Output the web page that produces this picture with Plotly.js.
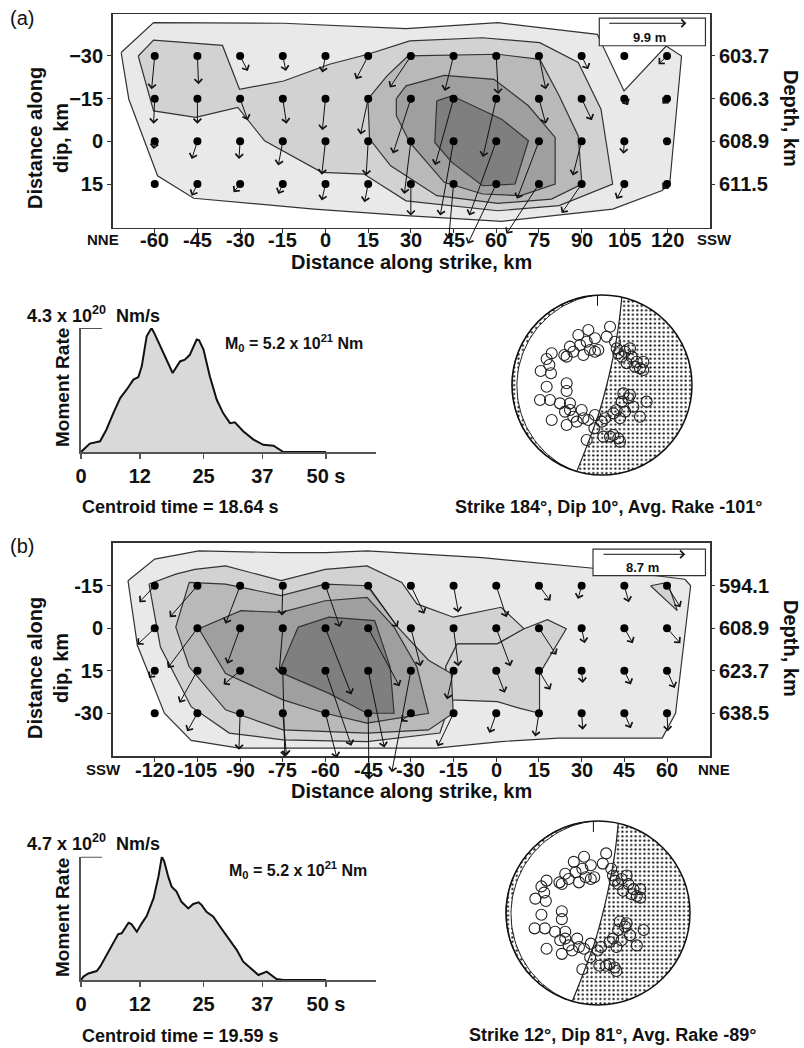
<!DOCTYPE html>
<html><head><meta charset="utf-8">
<script src="https://cdn.plot.ly/plotly-3.0.1.min.js"></script>
<style>html,body{margin:0;padding:0;background:#fff}#chart{width:804px;height:1048px}</style>
</head><body><div id="chart"></div>
<script>
// ---------- Event (a): slip grid ----------
const strikeA = [-60,-45,-30,-15,0,15,30,45,60,75,90,105,120];
const dipA = [-30,-15,0,15];
const depthLabelsA = ['603.7','606.3','608.9','611.5'];
// slip vector components (km on the map scale), one row per dip level
const slipDxA = [
  [-1.1, 0.4, 2.7, 1.1,-1.1,-4.3,-7.4,-3.1, 0.7, 2.4, 2.3, null,-3.0],
  [-0.4, 0.0, 2.7, 1.3,-1.1,-2.7,-6.3,-6.5,-4.7, 2.4, 3.6, 1.3,-1.6],
  [-0.4,-2.0,-0.4,-1.6,-1.3,-0.7,-2.3,-4.7,-9.5,-7.7,-3.1,-0.3,-0.5],
  [null,-2.0,-2.3,-1.6,-1.3,-1.3, 0.0,-1.7,-10.0,-11.4,-7.0,-2.7,-1.6]
];
const slipDyA = [
  [11.7, 9.9, 5.3, 5.3, 5.8, 8.2,11.1,12.3,13.4,11.7, 4.7, null, 2.9],
  [ 8.8, 8.8, 7.6, 8.8,11.1,12.6,19.3,23.4,20.5, 8.8, 7.6, 2.3, 1.8],
  [ 2.7, 6.2, 6.2, 8.5,11.7,12.0,18.5,26.1,26.1,20.2,12.0, 4.4, 1.5],
  [null, 4.1, 2.9, 3.5, 5.8, 6.4,11.1,19.3,21.0,17.5,10.2, 5.3, 1.8]
];
// slip contour outlines, outermost (lowest) level first
const contourXA = [
  [-71.8,-60.4,-14.7,28.3,60.6,95.5,104.9,119.7,125.1,121.0,118.3,100.9,61.9,28.3,-4,-46.3,-59,-69.1],
  [-65.8,-60.4,-36.2,-30.2,-14.7,1.4,14.9,29.6,55.2,75.3,88.8,96.8,100.9,82.1,60.6,28.3,13.5,-1.3,-21.4,-30.8,-45.6,-60.4],
  [14.9,21.6,29,60.6,75.3,82.1,88.8,90.1,79.4,60.6,39.1,22.9,15.5],
  [24.9,28.3,41.7,59.2,71.3,80.7,80.7,68.6,55.2,41.7,29.6,24.9],
  [39.1,44.4,61.9,71.3,66.6,55.2,44.4,38.4]
];
const contourYA = [
  [-31.2,-41.7,-41.5,-39.6,-41.7,-37.6,-17.7,-33.5,-30,14.4,17.3,23.8,28.1,26.1,23.8,20.0,12.1,-14.8],
  [-30,-35.6,-33.7,-18.3,-21.2,-27.1,-30.6,-35.3,-36.4,-34.7,-27.7,-11.3,15,22.6,24.4,20.9,11.5,10.9,-0.2,-11.9,-8.4,-10.7],
  [-14.8,-23,-30,-30.6,-28.8,-16,-1.9,15,20.3,21.8,19.1,8.6,-0.8],
  [-15,-19.5,-23.2,-21.8,-12.5,-1.4,15,19.1,18.5,14.4,0.4,-9],
  [-14.2,-16,-7.8,-0.2,15,15.6,7.4,0.4]
];
const scaleSlipA = '9.9 m';

// ---------- Event (b): slip grid ----------
const strikeB = [-120,-105,-90,-75,-60,-45,-30,-15,0,15,30,45,60];
const dipB = [-15,0,15,30];
const dipLabelsB = ['-15','0','15','-30'];
const depthLabelsB = ['594.1','608.9','623.7','638.5'];
const slipDxB = [
  [-5.4,-9.7,-5.1,-0.3, 5.1,10.4, 4.7, 1.7, 3.6, 4.0,-1.3, 1.6, 4.7],
  [-6.1,-10.4,-4.5,-1.3, 9.1,11.0, 3.4, 1.7, 5.0, 6.1, 1.1, 3.0, 4.7],
  [-2.0,-6.3,-5.8, 0.7, 9.1, 5.7,-6.7,-2.3, 3.0, 4.0, 0.4, 2.3, 2.7],
  [null,-3.6,-0.4, 1.3, 4.0, 0.3,-3.4,-5.6,-2.4,-1.3, 0.4, 2.3, 0.3]
];
const slipDyB = [
  [ 5.8,11.1,13.4,10.5,14.6,14.6, 9.9, 9.4,11.1, 5.3, 4.7, 5.8, 7.6],
  [ 5.8,14.0,12.5,15.8,23.4,20.5,13.4,13.4,13.4, 9.4, 5.3, 5.3, 5.3],
  [ 2.6,11.3, 4.9,30.4,26.5,27.1,35.8,10.1, 7.8, 6.7, 4.3, 4.9, 6.1],
  [null, 6.4,12.9,15.0,15.7,23.4, 2.9,11.7, 7.0, 8.2, 5.8, 5.3, 6.4]
];
const contourXB = [
  [-129.4,-120,-104.5,-74.9,-60,-45.3,-5,30,36,66.3,68.3,63,58.3,21.9,1.7,-21.1,-58.8,-90.4,-107.2,-116.6,-126.1],
  [-122,-112.6,-105.9,-95.1,-75.6,-60.1,-45.4,-33.2,-27.9,-15.1,1.7,9.8,0.4,-13.7,-17.8,-15.8,-19.8,-45.4,-74.9,-93.8,-107.2,-118],
  [-107.9,-95.1,-75.6,-60.1,-45.4,-34.6,-23.8,-15.8,-15.1,-23.8,-45.4,-74.9,-95.1,-107.9,-112.6],
  [-104.5,-89.7,-75.6,-60.1,-45.4,-35.9,-27.9,-23.8,-45.4,-60.1,-74.9,-95.1],
  [-69.6,-58.8,-42.7,-37.3,-35.9,-45.4,-58.8,-76.3]
];
const contourYB = [
  [-16.8,-24.4,-27.3,-26.7,-26.7,-27.3,-24.9,-21.4,-21,-17.3,-15,30,38.8,38.8,40,42.3,42.3,42.3,39.6,30,6],
  [-15.6,-19.1,-20.8,-22,-16.8,-20.8,-22,-16.2,-8.6,-3.9,-7.4,0.2,5.5,5.5,13.6,25.3,37,40,39.4,37,27.7,6.6],
  [-16.2,-15.6,-11.5,-15.6,-15,-0.4,11.3,16,30,35.9,37,35.9,28.8,13.6,-0.4],
  [0.2,-6.2,-5.6,-9.7,-10.9,-0.4,13.6,30,33.5,30,25.3,16],
  [-0.4,-3.9,-2.7,13.6,30,30,23,15.4]
];
// second-level patch east of the main asperity, and the small patch at the NNE end
const eastPatchXB = [-13.7,0.4,9.8,18.0,24.6,19.2,15.2,15.2,8.4,0.4,-15.8,-17.8];
const eastPatchYB = [5.5,5.5,0.2,-3.0,0.2,9.0,16,30,28.3,25.9,25.3,13.6];
const islandXB = [54.2,60.2,63.6];
const islandYB = [-15,-16.2,-6.2];
const scaleSlipB = '8.7 m';

// ---------- Moment-rate functions (10^20 Nm/s) ----------
const momTimeA = [0,0.8,1.8,3.9,5.2,6.6,8.0,9.3,10.7,11.7,12.4,13.4,14.4,15.1,16.8,18.7,20.2,21.2,22.2,23.6,24.1,25,26.3,27.7,29,30.4,31.4,33.1,35.2,37.2,39.3,41.3,50];
const momRateA = [0,0.14,0.29,0.37,0.78,1.35,1.87,2.16,2.51,2.6,2.97,4.01,4.3,4.07,3.43,2.74,3.14,3.2,3.37,3.9,3.87,3.55,2.62,1.81,1.35,1.0,1.03,0.72,0.43,0.25,0.22,0,0];
const momTimeB = [0,0.5,1.5,3.2,3.9,5.2,6.6,7.6,8.3,9.7,10.3,11.4,12.4,13.4,14.8,15.8,16.5,17,17.8,18.5,19.5,20.5,21.9,22.9,24,24.6,25.6,27,28.4,30.4,31.8,33.1,34.8,36.2,37.9,38.9,39.9,41.3,50];
const momRateB = [0,0.13,0.25,0.34,0.51,0.95,1.4,1.75,1.78,2.18,2.13,1.84,2.16,2.44,3.11,3.94,4.7,4.51,3.94,3.56,3.37,2.98,2.73,2.9,2.96,2.86,2.6,2.41,2.03,1.52,1.14,0.70,0.44,0.19,0.32,0.19,0.04,0,0];
const timeTicks = [0,12,25,37,50];
const timeTickText = ['0','12','25','37','50 s'];

// ---------- Focal mechanisms (unit-circle projection) ----------
const stationU = [-0.559,-0.615,-0.585,-0.681,-0.567,-0.419,-0.356,-0.393,-0.319,-0.263,-0.244,-0.207,-0.152,-0.170,-0.133,-0.078,-0.078,-0.041,0.089,0.052,0.144,0.163,0.181,0.219,0.256,0.311,0.330,0.385,0.422,0.459,0.274,0.367,-0.615,-0.393,-0.393,-0.689,-0.578,-0.467,-0.356,-0.411,-0.356,-0.319,-0.226,-0.207,-0.152,-0.078,-0.559,-0.393,-0.281,-0.004,0.033,0.126,0.200,0.163,0.256,0.219,0.293,0.348,0.422,0.496,0.237,-0.085,-0.170,0.015,0.126,0.181,0.200,0.089,0.311,0.459];
const stationV = [0.352,0.289,0.222,0.156,0.130,0.333,0.426,0.315,0.370,0.556,0.444,0.333,0.611,0.481,0.389,0.370,0.519,0.389,0.648,0.537,0.481,0.407,0.352,0.315,0.370,0.407,0.315,0.259,0.185,0.259,0.241,0.204,-0.019,0.019,-0.067,-0.167,-0.167,-0.204,-0.204,-0.296,-0.278,-0.352,-0.278,-0.370,-0.389,-0.333,-0.389,-0.444,-0.407,-0.407,-0.370,-0.315,-0.370,-0.278,-0.296,-0.185,-0.148,-0.241,-0.352,-0.185,-0.093,-0.481,-0.611,-0.574,-0.556,-0.593,-0.630,-0.574,-0.111,0.167];
const nodalU = [0.22,0.19,0.15,0.10,0.04,-0.03,-0.12,-0.20,-0.28];
const nodalV = [0.976,0.70,0.45,0.20,-0.05,-0.30,-0.55,-0.76,-0.96];
const mechTextA = 'Strike 184°, Dip 10°, Avg. Rake -101°';
const mechTextB = 'Strike 12°, Dip 81°, Avg. Rake -89°';

// ---------- page geometry helpers ----------
const W = 804, H = 1048;
const FONT = 'Liberation Sans, Arial, Helvetica, sans-serif';
const px = v => v / W;
const py = v => 1 - v / H;
const LEVEL_FILL = ['#e9e9e9','#d2d2d2','#b9b9b9','#9f9f9f','#7f7f7f'];

const traces = [];
const annotations = [];
const shapes = [];

function boldFont(size){ return {family: FONT, size: size, color: '#111', weight: 700}; }

function polyTrace(xa, ya, xs, ys, level){
  return {type:'scatter', mode:'lines', x: xs.concat([xs[0]]), y: ys.concat([ys[0]]),
    xaxis: xa, yaxis: ya, fill:'toself', fillcolor: LEVEL_FILL[level],
    line:{color:'#333', width:1.2}, hoverinfo:'skip', showlegend:false};
}

function slipPanel(xa, ya, contX, contY, strikes, dips, dX, dY, extraPolys){
  extraPolys = extraPolys || [];
  contX.forEach((xs, k) => {
    traces.push(polyTrace(xa, ya, xs, contY[k], k));
    // extra patches of this level go right after it, beneath the higher levels
    extraPolys.filter(p => p.level === k).forEach(p => traces.push(polyTrace(xa, ya, p.x, p.y, p.level)));
  });
  const gx = [], gy = [];
  dips.forEach(d => strikes.forEach(s => { gx.push(s); gy.push(d); }));
  traces.push({type:'scatter', mode:'markers', x: gx, y: gy, xaxis: xa, yaxis: ya,
    marker:{color:'#000', size:8}, hoverinfo:'skip', showlegend:false});
  dips.forEach((d, i) => strikes.forEach((s, j) => {
    const ddx = dX[i][j], ddy = dY[i][j];
    if (ddx === null || ddy === null) return;
    annotations.push({x: s + ddx, y: d + ddy, ax: s, ay: d,
      xref: xa, yref: ya, axref: xa, ayref: ya, text: '', showarrow: true,
      arrowhead: 4, arrowsize: 1.5, arrowwidth: 1, arrowcolor: '#111', standoff: 0, startstandoff: 0});
  }));
}

// strike tick labels written just under the frame
function strikeLabels(xa, strikes, yPix){
  strikes.forEach(s => annotations.push({x: s, xref: xa, y: py(yPix), yref: 'paper', text: String(s),
    showarrow: false, xanchor: 'center', yanchor: 'middle', font: boldFont(20)}));
}

function scaleBox(xa, ya, x0, x1, y0, y1, ay, tx, ty, label){
  shapes.push({type:'rect', xref: xa, yref: ya, x0: x0, x1: x1, y0: y0, y1: y1,
    fillcolor:'#fff', line:{color:'#333', width:1.2}, layer:'above'});
  annotations.push({x: x1 - 0.18*(x1-x0), y: ay, ax: x0 + 0.08*(x1-x0), ay: ay,
    xref: xa, yref: ya, axref: xa, ayref: ya, text:'', showarrow:true,
    arrowhead:4, arrowsize:1.5, arrowwidth:1, arrowcolor:'#111', standoff:0});
  annotations.push({x: tx, y: ty, xref: xa, yref: ya, text: label, showarrow:false,
    font:{family: FONT, size:13, color:'#111', weight:700}});
}

function arc(r, a0, a1, n){
  const u = [], v = [];
  for (let i = 0; i <= n; i++){
    const a = (a0 + (a1 - a0) * i / n) * Math.PI / 180;
    u.push(r * Math.cos(a)); v.push(r * Math.sin(a));
  }
  return {u, v};
}

function beachball(xa, ya){
  const pattern = {shape:'.', fgcolor:'#111', bgcolor:'#fff', size:4.4, solidity:0.2};
  // compressional quadrant east of the steep nodal plane
  const aA = Math.atan2(nodalV[0], nodalU[0]) * 180 / Math.PI;
  const n = nodalU.length - 1;
  const aB = Math.atan2(nodalV[n], nodalU[n]) * 180 / Math.PI;
  const outer = arc(1, aA, aB, 80);
  const ru = outer.u.concat(nodalU.slice().reverse());
  const rv = outer.v.concat(nodalV.slice().reverse());
  traces.push({type:'scatter', mode:'lines', x: ru, y: rv, xaxis: xa, yaxis: ya,
    fill:'toself', fillpattern: pattern, fillcolor:'rgba(0,0,0,0)',
    line:{width:0, color:'rgba(0,0,0,0)'}, hoverinfo:'skip', showlegend:false});
  // thin quadrant along the western rim
  const o = arc(1, 95, 250, 60);
  const inU = [], inV = [];
  for (let i = 60; i >= 0; i--){
    const a = 95 + 155 * i / 60;
    const w = 0.055 * Math.sin(Math.PI * i / 60);
    const rad = a * Math.PI / 180;
    inU.push((1 - w) * Math.cos(rad)); inV.push((1 - w) * Math.sin(rad));
  }
  traces.push({type:'scatter', mode:'lines', x: o.u.concat(inU), y: o.v.concat(inV), xaxis: xa, yaxis: ya,
    fill:'toself', fillpattern: pattern, fillcolor:'rgba(0,0,0,0)',
    line:{width:1, color:'#222'}, hoverinfo:'skip', showlegend:false});
  traces.push({type:'scatter', mode:'lines', x: nodalU, y: nodalV, xaxis: xa, yaxis: ya,
    line:{color:'#222', width:1.2, shape:'spline'}, hoverinfo:'skip', showlegend:false});
  traces.push({type:'scatter', mode:'markers', x: stationU, y: stationV, xaxis: xa, yaxis: ya,
    marker:{symbol:'circle-open', size:11, color:'#222', line:{width:1.1}}, hoverinfo:'skip', showlegend:false});
  shapes.push({type:'circle', xref: xa, yref: ya, x0:-1, x1:1, y0:-1, y1:1, line:{color:'#111', width:1.5}});
  shapes.push({type:'line', xref: xa, yref: ya, x0:-0.05, x1:-0.05, y0:1, y1:0.88, line:{color:'#111', width:1}});
}

function momentPanel(xa, ya, t, r){
  traces.push({type:'scatter', mode:'lines', x: t, y: r, xaxis: xa, yaxis: ya,
    fill:'tozeroy', fillcolor:'#d9d9d9', line:{color:'#111', width:2}, hoverinfo:'skip', showlegend:false});
}

function txt(x, y, text, size, opts){
  annotations.push(Object.assign({x: px(x), y: py(y), xref:'paper', yref:'paper', text: text,
    showarrow:false, font:boldFont(size), xanchor:'center', yanchor:'middle'}, opts || {}));
}

// ---------- build panels ----------
slipPanel('x', 'y', contourXA, contourYA, strikeA, dipA, slipDxA, slipDyA);
slipPanel('x4', 'y5', contourXB, contourYB, strikeB, dipB, slipDxB, slipDyB,
  [{x: eastPatchXB, y: eastPatchYB, level: 1}, {x: islandXB, y: islandYB, level: 1}]);
// empty traces that attach the depth axes to their panels
traces.push({type:'scatter', mode:'markers', x:[strikeA[0]], y:[dipA[0]], xaxis:'x', yaxis:'y2', marker:{opacity:0}, hoverinfo:'skip', showlegend:false});
traces.push({type:'scatter', mode:'markers', x:[strikeB[0]], y:[dipB[0]], xaxis:'x4', yaxis:'y6', marker:{opacity:0}, hoverinfo:'skip', showlegend:false});
strikeLabels('x', strikeA, 240);
strikeLabels('x4', strikeB, 770);
scaleBox('x', 'y', 96.2, 133.5, -43.3, -33.6, -41.5, 113.7, -36.4, scaleSlipA);
scaleBox('x4', 'y5', 34, 73.5, -27.9, -18.6, -26.1, 51.5, -21.6, scaleSlipB);
momentPanel('x2', 'y3', momTimeA, momRateA);
momentPanel('x5', 'y7', momTimeB, momRateB);
beachball('x3', 'y4');
beachball('x6', 'y8');

// short horizontal tick marking the peak moment rate
shapes.push({type:'line', xref:'x2', yref:'y3', x0:0, x1:4.3, y0:4.3, y1:4.3, line:{color:'#555', width:2}});
shapes.push({type:'line', xref:'x5', yref:'y7', x0:0, x1:4.3, y0:4.7, y1:4.7, line:{color:'#555', width:2}});

// ---------- text ----------
txt(8, 18, '(a)', 20, {xanchor:'left', font:{family: FONT, size:20, color:'#111'}});
txt(8, 546, '(b)', 20, {xanchor:'left', font:{family: FONT, size:20, color:'#111'}});
txt(103, 239, 'NNE', 15); txt(714, 239, 'SSW', 15);
txt(103, 769, 'SSW', 15); txt(714, 769, 'NNE', 15);
txt(411, 262, 'Distance along strike, km', 20);
txt(411, 791, 'Distance along strike, km', 20);
txt(48, 138, 'Distance along<br>dip, km', 20, {textangle:-90});
txt(48, 668, 'Distance along<br>dip, km', 20, {textangle:-90});
txt(791, 118, 'Depth, km', 20, {textangle:90});
txt(791, 648, 'Depth, km', 20, {textangle:90});
txt(25, 314, '4.3 x 10<sup>20</sup>  Nm/s', 18, {xanchor:'left'});
txt(25, 842, '4.7 x 10<sup>20</sup>  Nm/s', 18, {xanchor:'left'});
txt(62, 388, 'Moment Rate', 19, {textangle:-90});
txt(62, 918, 'Moment Rate', 19, {textangle:-90});
txt(223, 343, 'M<sub>0</sub> = 5.2 x 10<sup>21</sup> Nm', 16, {xanchor:'left'});
txt(227, 870, 'M<sub>0</sub> = 5.2 x 10<sup>21</sup> Nm', 16, {xanchor:'left'});
txt(80, 507, 'Centroid time = 18.64 s', 18, {xanchor:'left'});
txt(80, 1036, 'Centroid time = 19.59 s', 18, {xanchor:'left'});
txt(608, 507, mechTextA, 18);
txt(612, 1035, mechTextB, 18);

// ---------- axes ----------
const frame = {showline:true, mirror:true, linecolor:'#333', linewidth:1.5, showgrid:false, zeroline:false,
  ticks:'outside', ticklen:4, tickcolor:'#333', tickfont: boldFont(20)};
function slipYRight(base, labels, range){
  return {overlaying: base, side:'right', anchor: base === 'y' ? 'x' : 'x4', range: range,
    tickmode:'array', tickvals: base === 'y' ? dipA : dipB, ticktext: labels,
    showline:false, showgrid:false, zeroline:false, ticks:'outside', ticklen:4, tickcolor:'#333', tickfont: boldFont(20)};
}
const slipXDomain = [px(112.6), px(710)];
const momXDomain = [px(81), px(376)];
const momAxisX = (anchor) => ({domain: momXDomain, range:[0, 60.2], anchor: anchor, showline:true, linecolor:'#555', linewidth:2,
  showgrid:false, zeroline:false, ticks:'outside', ticklen:5, tickcolor:'#555', tickwidth:1.5, tickangle:0,
  tickmode:'array', tickvals: timeTicks, ticktext: timeTickText, tickfont: boldFont(20)});
const momAxisY = (anchor, dom, top) => ({domain: dom, range:[0, top], anchor: anchor, showline:true, linecolor:'#555', linewidth:2,
  showgrid:false, zeroline:false, showticklabels:false, ticks:''});
const beachAxis = (anchor, dom) => ({domain: dom, range:[-1.05, 1.05], anchor: anchor, visible:false, fixedrange:true});
const bA = {cx:602, cy:385, r:90}, bB = {cx:598, cy:913, r:92};

const layout = {
  width: W, height: H, margin:{l:0, r:0, t:0, b:0}, paper_bgcolor:'#fff', plot_bgcolor:'#fff',
  showlegend:false, font:{family: FONT},
  xaxis: Object.assign({}, frame, {domain: slipXDomain, range:[-74.8, 135.1], anchor:'y', tickmode:'array', tickvals: strikeA, showticklabels:false}),
  yaxis: Object.assign({}, frame, {domain:[py(227.7), py(14)], range:[30.35, -44.75], anchor:'x', tickmode:'array', tickvals: dipA}),
  yaxis2: slipYRight('y', depthLabelsA, [30.35, -44.75]),
  xaxis2: momAxisX('y3'),
  yaxis3: momAxisY('x2', [py(452), py(328)], 4.3),
  xaxis3: beachAxis('y4', [px(bA.cx - 1.05*bA.r), px(bA.cx + 1.05*bA.r)]),
  yaxis4: beachAxis('x3', [py(bA.cy + 1.05*bA.r), py(bA.cy - 1.05*bA.r)]),
  xaxis4: Object.assign({}, frame, {domain: slipXDomain, range:[-134.8, 75.1], anchor:'y5', tickmode:'array', tickvals: strikeB, showticklabels:false}),
  yaxis5: Object.assign({}, frame, {domain:[py(756), py(542.7)], range:[45.1, -30.2], anchor:'x4', tickmode:'array', tickvals: dipB, ticktext: dipLabelsB}),
  yaxis6: slipYRight('y5', depthLabelsB, [45.1, -30.2]),
  xaxis5: momAxisX('y7'),
  yaxis7: momAxisY('x5', [py(980), py(856.7)], 4.7),
  xaxis6: beachAxis('y8', [px(bB.cx - 1.05*bB.r), px(bB.cx + 1.05*bB.r)]),
  yaxis8: beachAxis('x6', [py(bB.cy + 1.05*bB.r), py(bB.cy - 1.05*bB.r)]),
  annotations: annotations,
  shapes: shapes
};

Plotly.newPlot('chart', traces, layout, {staticPlot:true, displayModeBar:false});
</script></body></html>
